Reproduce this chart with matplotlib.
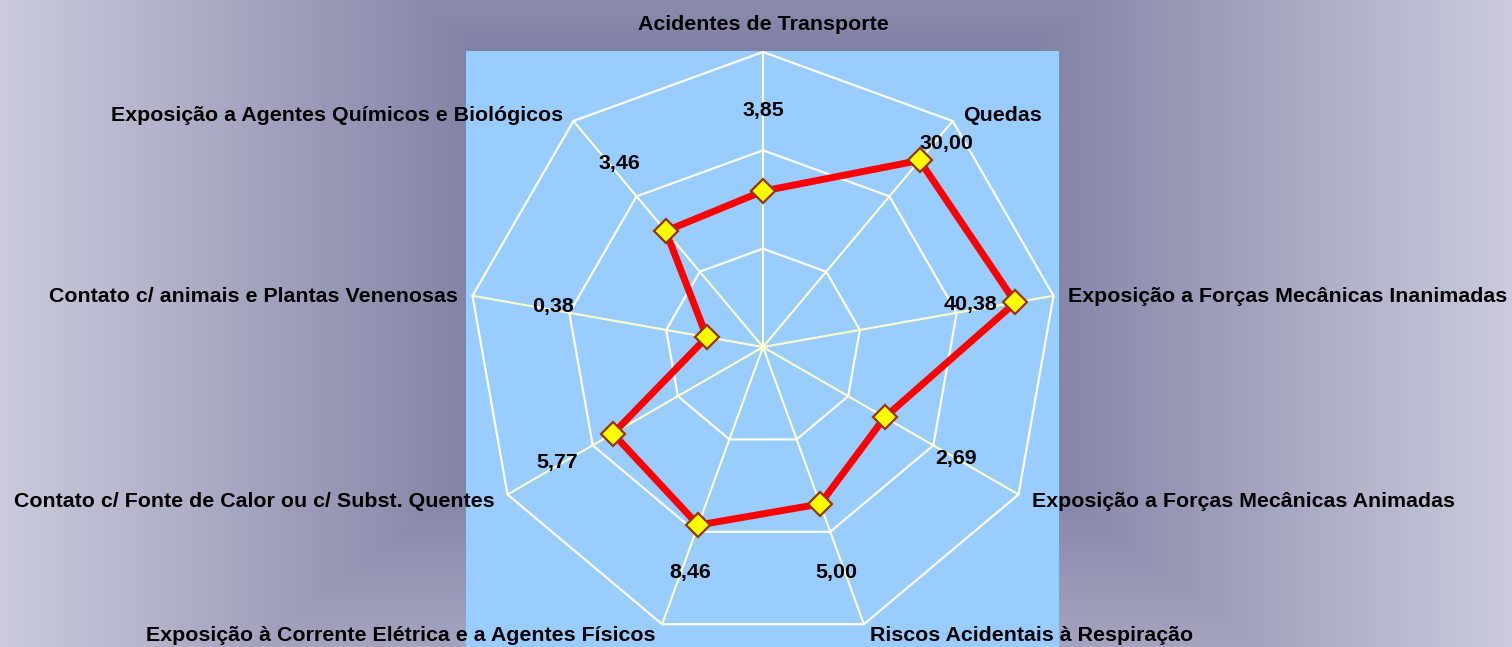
import numpy as np
import matplotlib
matplotlib.use("Agg")
import matplotlib.pyplot as plt
from matplotlib.patches import Polygon

plt.rcParams['font.family'] = ['Liberation Sans', 'DejaVu Sans']

# data
categories = [
    "Acidentes de Transporte",
    "Quedas",
    "Exposição a Forças Mecânicas Inanimadas",
    "Exposição a Forças Mecânicas Animadas",
    "Riscos Acidentais à Respiração",
    "Exposição à Corrente Elétrica e a Agentes Físicos",
    "Contato c/ Fonte de Calor ou c/ Subst. Quentes",
    "Contato c/ animais e Plantas Venenosas",
    "Exposição a Agentes Químicos e Biológicos",
]
values = [3.85, 30.00, 40.38, 2.69, 5.00, 8.46, 5.77, 0.38, 3.46]

# log radial scale 0.1 .. 100
rmin, rmax = 0.1, 100.0
ring_values = [1, 10, 100]

# where the value labels sit (hand placed in the original): radius in axis units
# and a small angular nudge in degrees
label_r = [2.41, 2.79, 2.15, 2.27, 2.41, 2.41, 2.40, 2.18, 2.37]
label_dth = [0, 2, -1.5, 0, 2, -2, 0.6, 1, 2]

W, H, DPI = 1512, 647, 100
fig = plt.figure(figsize=(W / DPI, H / DPI), dpi=DPI)

# background: rectangular gradient, dark in the middle, light at the edges
xs = np.arange(W)
ys = np.arange(H)
X, Y = np.meshgrid(xs, ys)
t = np.maximum(np.abs(X - 756) / 756.0, np.abs(Y - 260) / 580.0)
s = np.clip((t - 0.3) / 0.7, 0, 1)[..., None]
dark = np.array([122, 122, 160]) / 255.0
light = np.array([203, 203, 221]) / 255.0
img = dark + (light - dark) * s

bg = fig.add_axes([0, 0, 1, 1])
bg.imshow(img, aspect='auto', extent=(0, 1, 0, 1), origin='upper')
bg.set_axis_off()

# plot area
ax = fig.add_axes([466 / W, 0, 593 / W, 596 / H])
ax.set_facecolor('#99CCFF')
px = 295 / 3.0
ax.set_xlim(-297 / px, 296 / px)
ax.set_ylim(-300 / px, 296 / px)
ax.set_xticks([])
ax.set_yticks([])
for sp in ax.spines.values():
    sp.set_visible(False)


def rad(v):
    return np.log10(v) - np.log10(rmin)


n = len(categories)
theta = np.arange(n) * 2 * np.pi / n
sx, cy = np.sin(theta), np.cos(theta)
R = rad(rmax)

# grid rings
for rv in ring_values:
    r = rad(rv)
    ax.add_patch(Polygon(np.column_stack([r * sx, r * cy]), closed=True,
                         fill=False, edgecolor='white', lw=1.6, zorder=1))

# spokes
for i in range(n):
    ax.plot([0, R * sx[i]], [0, R * cy[i]], color='#FFFFC8', lw=1.5, zorder=2)

# series
r = rad(np.array(values))
ax.add_patch(Polygon(np.column_stack([r * sx, r * cy]), closed=True,
                     fill=False, edgecolor='#FF0000', lw=5, joinstyle='round',
                     zorder=3))
ax.plot(r * sx, r * cy, ls='none', marker='D', markersize=12,
        markerfacecolor='#FFFF00', markeredgecolor='#993300',
        markeredgewidth=1.6, zorder=4)

# value labels
for i, v in enumerate(values):
    lr = label_r[i]
    th = theta[i] + np.deg2rad(label_dth[i])
    ax.text(lr * np.sin(th), lr * np.cos(th), f"{v:.2f}".replace('.', ','),
            ha='center', va='center', fontsize=15.4, fontweight='bold',
            color='black', zorder=5)

# category labels
for i, name in enumerate(categories):
    vx, vy = R * sx[i], R * cy[i]
    if abs(sx[i]) < 1e-6:
        ha, va, off = 'center', 'bottom', (0, 18)
    else:
        ha = 'left' if sx[i] > 0 else 'right'
        va = 'center'
        off = (2 * np.sign(sx[i]) + 13 * sx[i], 10 * cy[i] - 2)
    ax.annotate(name, xy=(vx, vy), xytext=off, textcoords='offset pixels',
                ha=ha, va=va, fontsize=15.4, fontweight='bold', color='black',
                annotation_clip=False, zorder=6)

fig.savefig('out.png', dpi=DPI)
